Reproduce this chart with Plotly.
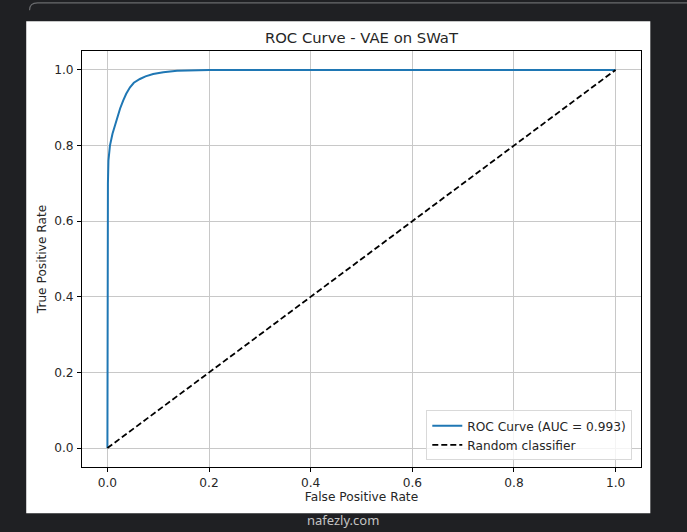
"""ROC curve for the VAE model on SWaT, drawn with Plotly."""

import plotly.graph_objects as go

# Theme
C_DARK = "#1f2023"
C_PAPER = "#ffffff"
C_BLUE = "#1f77b4"
C_TEXT = "#262626"
C_GRID = "#c8c8c8"
FONT = "DejaVu Sans"
FS = 12.2

W, H = 687, 532
M_L, M_R, M_T, M_B = 82.4, 46.3, 50.7, 65.3

# Data
fpr = [0.0, 0.0, 0.0005, 0.001, 0.002, 0.005, 0.010, 0.015, 0.020, 0.025,
       0.031, 0.037, 0.0445, 0.052, 0.064, 0.075, 0.090, 0.110, 0.137, 0.170,
       0.200, 1.0]
tpr = [0.0, 0.40, 0.575, 0.70, 0.76, 0.80, 0.831, 0.855, 0.875, 0.898,
       0.919, 0.937, 0.954, 0.966, 0.976, 0.983, 0.989, 0.994, 0.998, 0.9995,
       1.0, 1.0]
auc = 0.993
diag = [0.0, 1.0]
tick_vals = [0.0, 0.2, 0.4, 0.6, 0.8, 1.0]


def px(x):
    """Window pixel x -> paper x."""
    return (x - M_L) / (W - M_L - M_R)


def py(y):
    """Window pixel y -> paper y."""
    return (H - M_B - y) / (H - M_T - M_B)


fig = go.Figure()
fig.add_trace(go.Scatter(
    x=fpr, y=tpr, mode="lines", name=f"ROC Curve (AUC = {auc:.3f})",
    line=dict(color=C_BLUE, width=2),
))
fig.add_trace(go.Scatter(
    x=diag, y=diag, mode="lines", name="Random classifier",
    line=dict(color="black", width=1.8, dash="6px,3px"),
))

axis_common = dict(
    range=[-0.05, 1.05], tickvals=tick_vals, ticktext=[f"{v:.1f}" for v in tick_vals],
    ticks="outside", ticklen=4, tickcolor="black", tickwidth=1,
    showline=True, linecolor="black", linewidth=1, mirror=True,
    showgrid=True, gridcolor=C_GRID, gridwidth=1, zeroline=False,
    tickfont=dict(size=FS, color=C_TEXT, family=FONT),
)

fig.update_layout(
    width=W, height=H,
    paper_bgcolor=C_DARK, plot_bgcolor=C_PAPER,
    font=dict(family=FONT, color=C_TEXT, size=FS),
    margin=dict(l=M_L, r=M_R, t=M_T, b=M_B, pad=0),
    title=dict(
        text="ROC Curve - VAE on SWaT", font=dict(size=14.8, color=C_TEXT, family=FONT),
        x=px(361.5), xref="paper", xanchor="center",
        y=1 - 38 / H, yref="container", yanchor="middle",
    ),
    xaxis=dict(axis_common, title=dict(text="False Positive Rate", standoff=3,
                                       font=dict(size=FS, color=C_TEXT))),
    yaxis=dict(axis_common, ticklabelstandoff=1,
               title=dict(text="True Positive Rate", standoff=4,
                          font=dict(size=FS, color=C_TEXT))),
    legend=dict(
        x=px(632), y=py(460), xanchor="right", yanchor="bottom",
        bgcolor="rgba(255,255,255,0.8)", bordercolor="#d9d9d9", borderwidth=1,
        font=dict(size=FS, color=C_TEXT, family=FONT), itemwidth=30,
        tracegroupgap=0,
    ),
    showlegend=True,
    shapes=[
        # white figure area
        dict(type="rect", xref="paper", yref="paper", layer="below",
             x0=px(26.7), x1=px(650), y0=py(513), y1=py(21),
             fillcolor=C_PAPER, line=dict(width=0)),
        # border of the element above
        dict(type="path", xref="paper", yref="paper", layer="below",
             path=f"M {px(30)},{py(10)} Q {px(30)},{py(2.5)} {px(38)},{py(2.5)} L {px(690)},{py(2.5)}",
             line=dict(color="#6a6b6e", width=1.2)),
    ],
    annotations=[
        dict(text="nafezly.com", xref="paper", yref="paper", x=px(343), y=py(531),
             xanchor="center", yanchor="bottom", showarrow=False,
             font=dict(size=13, color="#c4c4c4", family="Noto Sans")),
    ],
)

fig.write_html("out.html", config=dict(displayModeBar=False),
               post_script="document.body.style.margin='0px';")
